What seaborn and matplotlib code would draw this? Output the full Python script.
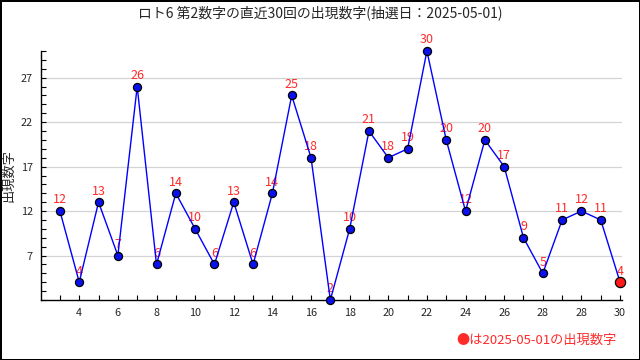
import numpy as np
import pandas as pd
import matplotlib
matplotlib.use("Agg")
import matplotlib.pyplot as plt
import seaborn as sns


# values (last 30 draws, 2nd number)
draw_index = list(range(30))
numbers = [12, 4, 13, 7, 26, 6, 14, 10, 6, 13, 6, 14, 25, 18, 2,
           10, 21, 18, 19, 30, 20, 12, 20, 17, 9, 5, 11, 12, 11, 4]
xtick_pos = list(range(1, 30, 2))
xtick_labels = ["4", "6", "8", "10", "12", "14", "16", "18", "20",
                "22", "24", "26", "28", "28", "30"]
ytick_major = [7, 12, 17, 22, 27]

TITLE = "ロト6 第2数字の直近30回の出現数字(抽選日：2025-05-01)"
YLABEL = "出現数字"
NOTE = "●は2025-05-01の出現数字"

RED = "#ff2a2a"
BLUE = "#0000ff"


def main():
    sns.set_style("white")
    plt.rcParams["font.family"] = ["Noto Sans CJK JP", "DejaVu Sans"]

    df = pd.DataFrame({"idx": draw_index, "num": numbers})

    fig = plt.figure(figsize=(6.4, 3.6), dpi=100)
    fig.patch.set_edgecolor("black")
    fig.patch.set_linewidth(2)
    ax = fig.add_axes([41 / 640, 60 / 360, 581 / 640, 249 / 360])

    sns.lineplot(data=df, x="idx", y="num", color=BLUE, linewidth=1,
                 ax=ax, zorder=2)
    sns.scatterplot(data=df.iloc[:-1], x="idx", y="num", color="#0a10ee",
                    edgecolor="black", linewidth=0.9, s=34, ax=ax, zorder=3,
                    clip_on=False)
    # latest draw highlighted in red
    sns.scatterplot(data=df.iloc[-1:], x="idx", y="num", color="#ff1a1a",
                    edgecolor="black", linewidth=0.9, s=54, ax=ax, zorder=4,
                    clip_on=False)

    # red number labels just above each point
    for i, v in zip(draw_index, numbers):
        ax.annotate(str(v), (i, v), xytext=(0, 8), textcoords="offset points",
                    ha="center", va="center", color=RED, fontsize=9,
                    clip_on=False, zorder=1)

    ax.set_xlim(-0.98, 29.1)
    ax.set_ylim(2, 30)
    ax.set_xticks(xtick_pos)
    ax.set_xticklabels(xtick_labels)
    ax.set_xticks(range(0, 30, 2), minor=True)
    ax.set_yticks(ytick_major)
    ax.set_yticks(range(2, 31), minor=True)
    ax.tick_params(axis="both", which="both", direction="in", length=3.5,
                   width=0.8, color="black", labelsize=7.8, pad=6,
                   bottom=True, left=True)
    ax.grid(axis="y", which="major", color="#d4d4d4", linewidth=0.9)
    ax.set_axisbelow(True)
    ax.set_xlabel("")
    ax.set_ylabel("")

    sns.despine(ax=ax, top=True, right=True)
    for side in ("left", "bottom"):
        ax.spines[side].set_color("black")
        ax.spines[side].set_linewidth(1)

    fig.text(0.5, 1 - 13 / 360, TITLE, ha="center", va="center", fontsize=10)
    fig.text(9 / 640, 1 - 176 / 360, YLABEL, ha="center", va="center",
             rotation=90, fontsize=9.5)
    fig.text(617 / 640, 1 - 340 / 360, NOTE, ha="right", va="center",
             color=RED, fontsize=9.5)

    fig.savefig("out.png", dpi=100, edgecolor=fig.get_edgecolor())
    plt.close(fig)


if __name__ == "__main__":
    main()
